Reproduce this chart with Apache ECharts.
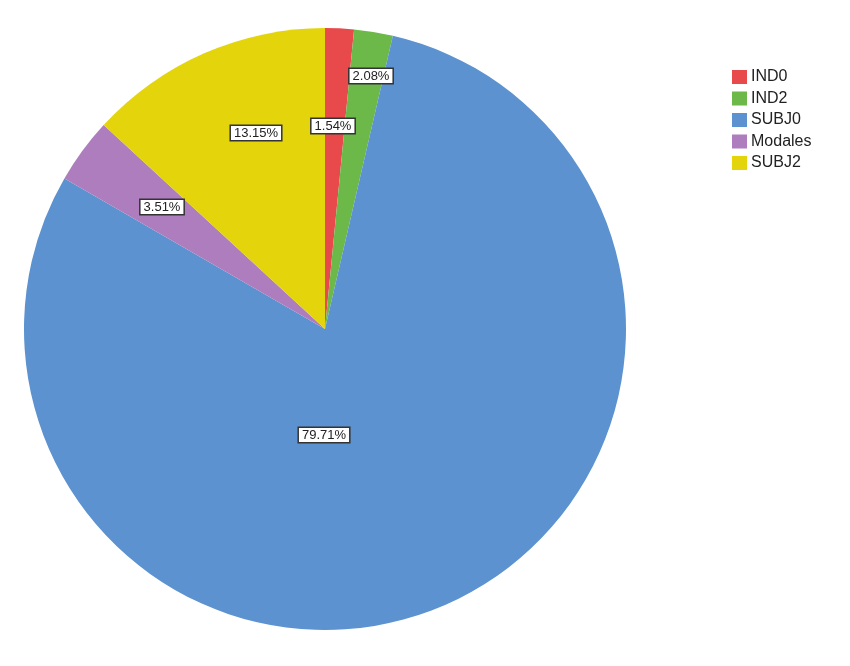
<!DOCTYPE html>
<html>
<head>
<meta charset="utf-8">
<script src="https://cdn.jsdelivr.net/npm/echarts@6/dist/echarts.min.js"></script>
<style>
html,body{margin:0;padding:0;background:#fff;}
#chart{width:850px;height:666px;}
</style>
</head>
<body>
<div id="chart"></div>
<script>
const categories = ['IND0', 'IND2', 'SUBJ0', 'Modales', 'SUBJ2'];
const values = [1.54, 2.08, 79.71, 3.51, 13.15];
const colors = ['#e84a4c', '#6cb94a', '#5b92cf', '#ae7dbd', '#e4d40c'];

// label offsets from pie centre (px), as placed in the reference
const labelOffsets = [[8, -203], [46, -253], [-1, 106], [-163, -122], [-69, -196]];
const CX = 325, CY = 329, R = 301;

const chart = echarts.init(document.getElementById('chart'), null, {renderer: 'canvas'});
chart.setOption({
  animation: false,
  backgroundColor: '#ffffff',
  legend: {
    orient: 'vertical',
    left: 732,
    top: 69,
    padding: 0,
    itemWidth: 15,
    itemHeight: 14,
    itemGap: 5.5,
    icon: 'rect',
    selectedMode: false,
    textStyle: {fontFamily: 'Liberation Sans, Arial, sans-serif', fontSize: 16, color: '#222', padding: [0, 0, 0, -1]},
    data: categories
  },
  series: [{
    type: 'pie',
    center: [CX, CY],
    radius: R,
    startAngle: 90,
    clockwise: true,
    avoidLabelOverlap: false,
    emphasis: {disabled: true},
    itemStyle: {borderWidth: 0},
    data: categories.map((c, i) => ({name: c, value: values[i], itemStyle: {color: colors[i]}})),
    label: {
      show: true,
      position: 'inside',
      formatter: p => p.value.toFixed(2) + '%',
      fontFamily: 'Liberation Sans, Arial, sans-serif',
      fontSize: 13,
      color: '#222',
      backgroundColor: '#ffffff',
      borderColor: '#333',
      borderWidth: 1.5,
      padding: [1, 3, 0, 3]
    },
    labelLine: {show: false},
    labelLayout: function (params) {
      const o = labelOffsets[params.dataIndex];
      return {x: CX + o[0], y: CY + o[1], align: 'center', verticalAlign: 'middle'};
    }
  }]
});
</script>
</body>
</html>
